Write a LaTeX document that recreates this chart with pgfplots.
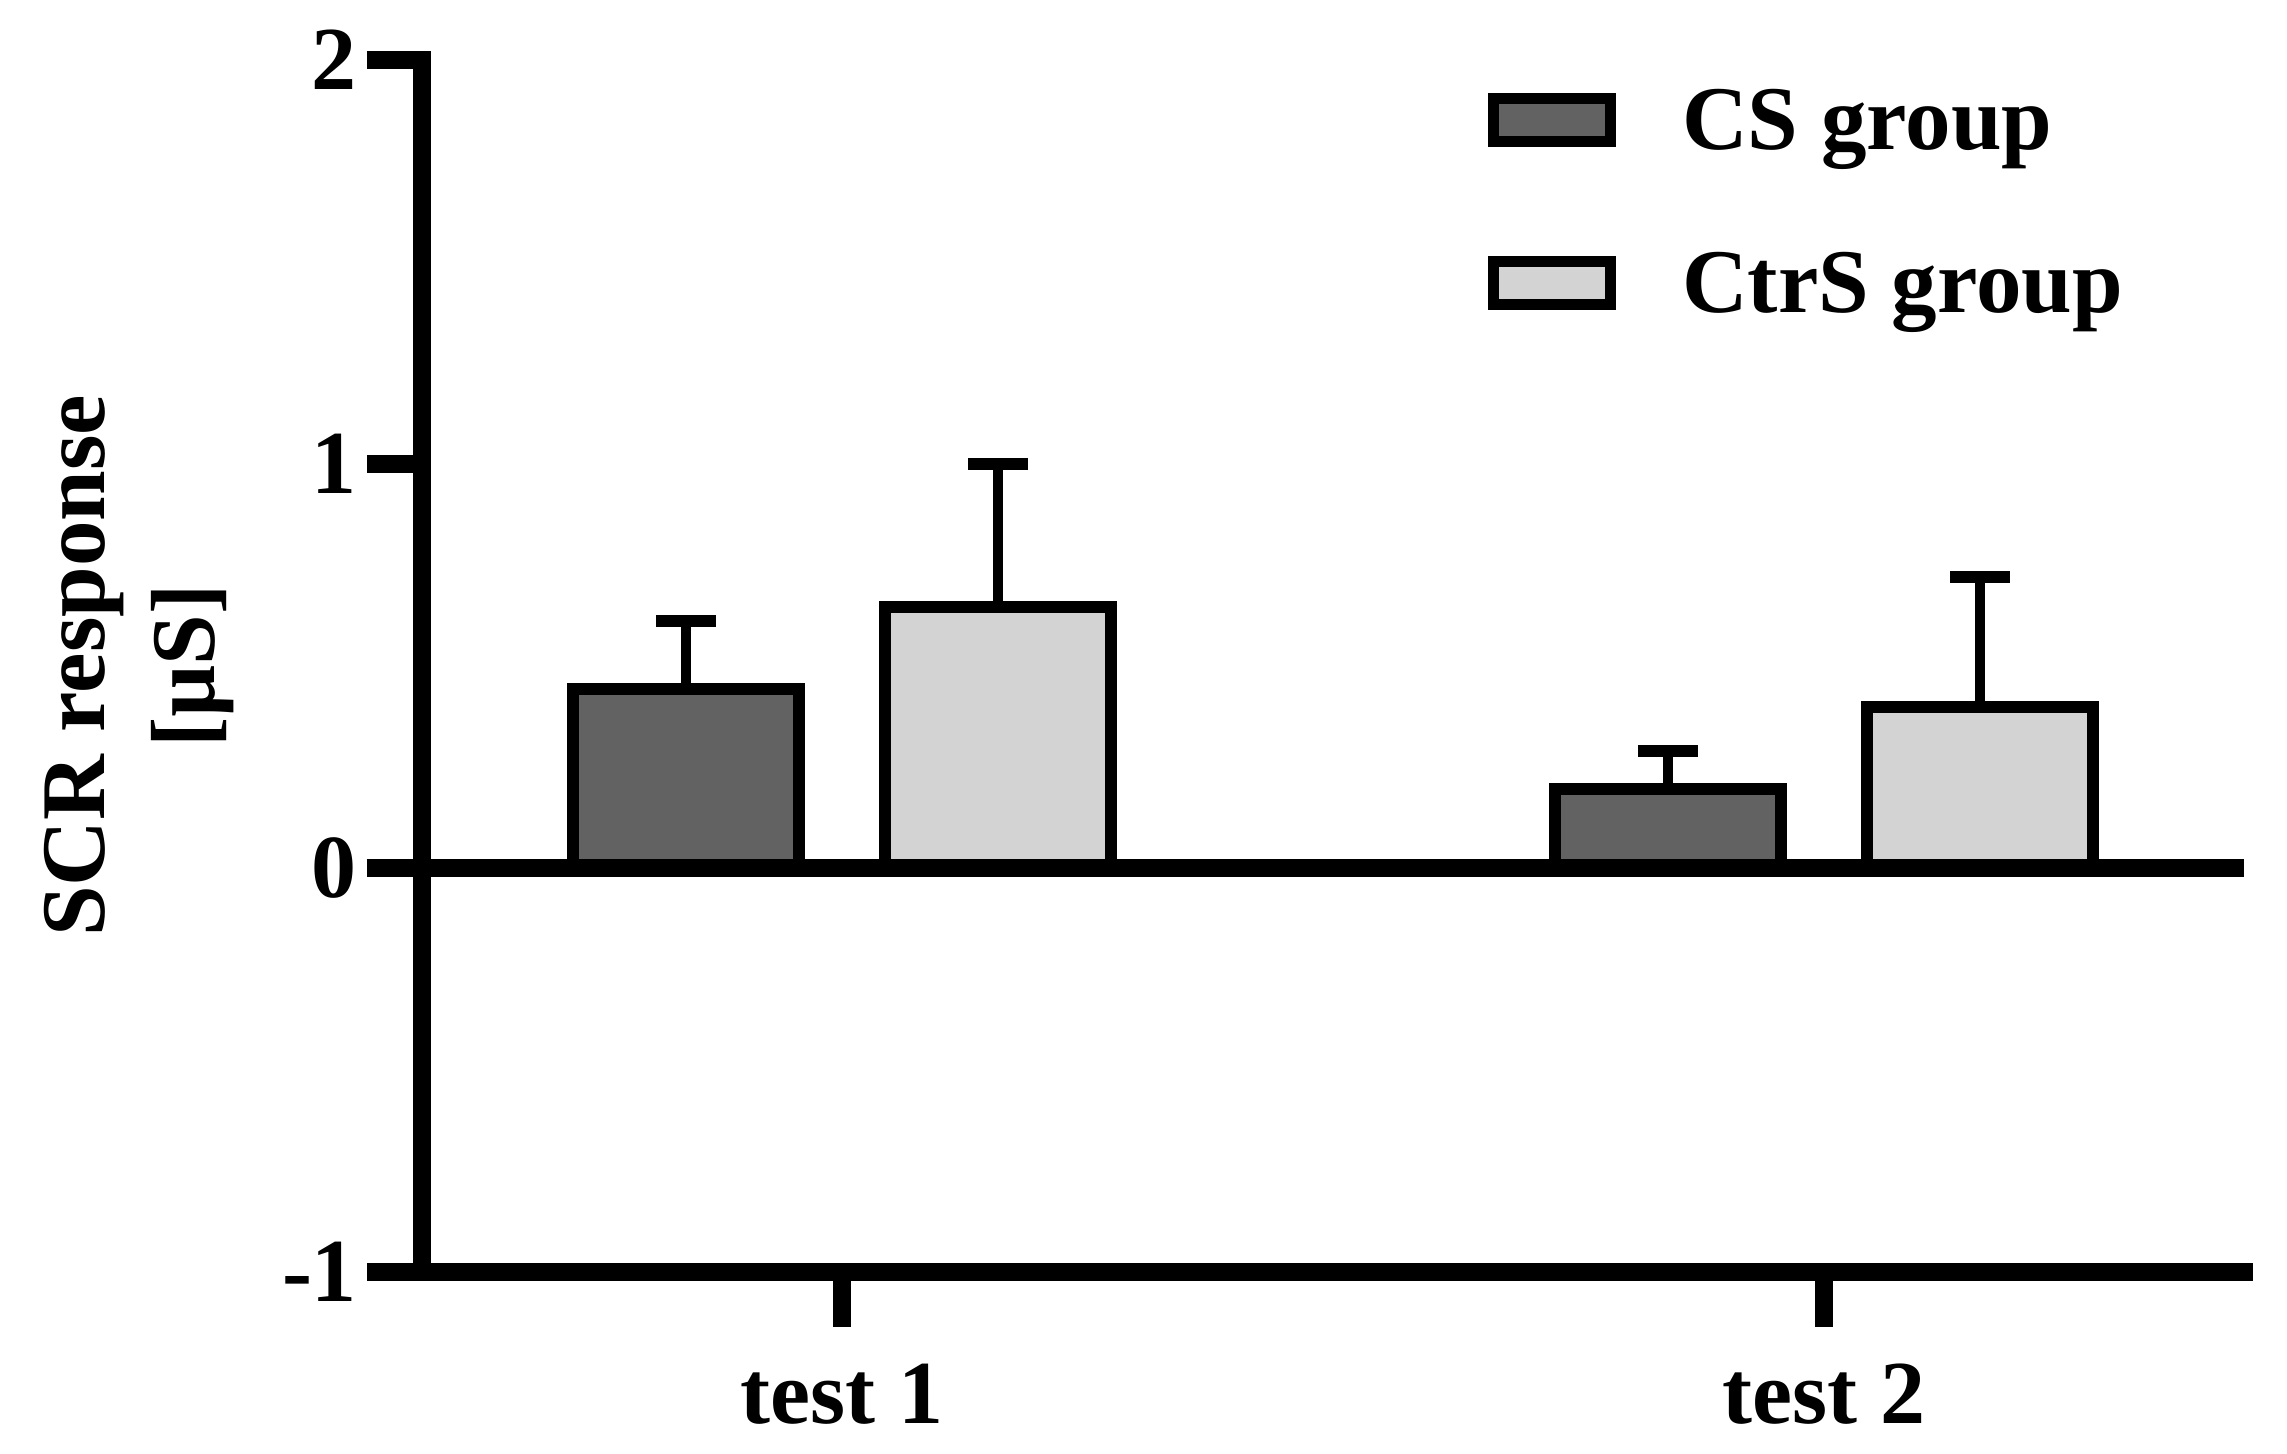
\documentclass[border=0pt]{standalone}
\usepackage{fontspec}
\setmainfont{Liberation Serif}
\usepackage{pgfplots}
\pgfplotsset{compat=1.18}
\definecolor{csgray}{RGB}{98,98,98}
\definecolor{ctrgray}{RGB}{211,211,211}
\pgfplotsset{
  mybarlegend/.style={legend image code/.code={%
    \draw[##1,line width=2.3pt] (0pt,1.7pt) rectangle (23.4pt,10.3pt);
    \path[draw=none,fill=none] (23.4pt,6pt) -- (37.8pt,6pt);}},
  myerr/.style={draw=none, mark=none, forget plot,
    error bars/.cd, y dir=plus, y explicit,
    error bar style={line width=2pt, draw=black, solid},
    error mark options={rotate=90, line width=2.4pt, mark size=6pt, draw=black, solid}},
}
\begin{document}
\begin{tikzpicture}
\useasboundingbox (0,0) rectangle (457.4pt,290.8pt);
\begin{axis}[
  at={(84.4pt,36.4pt)}, anchor=south west,
  scale only axis, width=364.4pt, height=242.4pt,
  xmin=0.572, xmax=2.428, ymin=-1, ymax=2,
  axis x line=bottom, axis y line=left,
  axis line style={-, line width=3.5pt, line cap=rect, black},
  xtick={1,2}, xticklabels={test 1,test 2},
  ytick={-1,0,1,2}, yticklabels={-1,0,1,2},
  tick align=outside, major tick length=11pt,
  major tick style={black, line width=3.5pt},
  minor tick num=0,
  tick label style={font=\bfseries\fontsize{18}{18}\selectfont, inner sep=0pt},
  xticklabel style={anchor=north, yshift=-7.2pt},
  yticklabel style={anchor=east, xshift=-1.8pt},
  extra y ticks={0}, extra y tick labels={},
  extra y tick style={grid=major, major grid style={black, line width=3.5pt}},
  axis on top,
  ylabel={SCR response\\{[µS]}},
  every axis y label/.style={at={(rel axis cs:-0.2080,0.5)}, rotate=90, anchor=north,
    inner sep=0pt, align=center, font=\bfseries\fontsize{18.2}{22}\selectfont},
  legend style={at={(rel axis cs:0.5848,0.9794)}, anchor=north west, draw=none, fill=none,
    inner sep=0pt, outer sep=0pt, row sep=15.6pt, column sep=0pt,
    cells={anchor=base west},
    nodes={inner sep=0pt, text height=13pt, text depth=4pt,
      font=\bfseries\fontsize{18.2}{18.2}\selectfont}},
]
\addplot[ybar, bar width=45.2pt, bar shift=-31.2pt, fill=csgray, draw=black, line width=2.3pt,
  mybarlegend]
  coordinates {(1,0.443) (2,0.196)};
\addlegendentry{CS group}
\addplot[ybar, bar width=45.2pt, bar shift=31.2pt, fill=ctrgray, draw=black, line width=2.3pt,
  mybarlegend]
  coordinates {(1,0.646) (2,0.398)};
\addlegendentry{CtrS group}
% error bars (upper SEM), placed at the bar centres
\addplot[myerr] coordinates {(0.8411,0.443) +- (0,0.168) (1.8411,0.196) +- (0,0.094)};
\addplot[myerr] coordinates {(1.1589,0.646) +- (0,0.354) (2.1589,0.398) +- (0,0.322)};
\end{axis}
\end{tikzpicture}
\end{document}
